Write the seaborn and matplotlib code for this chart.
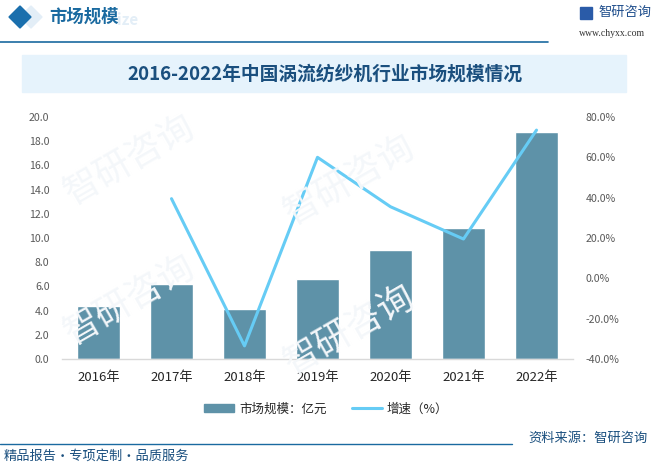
import matplotlib
matplotlib.use("Agg")
import matplotlib.pyplot as plt
import seaborn as sns
import pandas as pd
import numpy as np
from matplotlib.patches import Rectangle, Polygon
from matplotlib.lines import Line2D

years = ["2016年", "2017年", "2018年", "2019年", "2020年", "2021年", "2022年"]
market_size = [4.38, 6.2, 4.13, 6.6, 9.0, 10.8, 18.8]
growth_years = ["2017年", "2018年", "2019年", "2020年", "2021年", "2022年"]
growth = [39.5, -33.5, 60.0, 35.5, 19.5, 73.5]
left_ticks = [0, 2, 4, 6, 8, 10, 12, 14, 16, 18, 20]
right_ticks = [-40, -20, 0, 20, 40, 60, 80]

sns.set_theme(style="white")
plt.rcParams['font.family'] = ['Noto Sans CJK SC', 'DejaVu Sans']

BAR = "#5e92a8"
LINE = "#66ccf5"
DARK = "#1a4f7e"

W, H = 652, 466
fig = plt.figure(figsize=(W/100, H/100), dpi=100)

def fx(x): return x / W
def fy(y): return 1 - y / H

# faint watermarks
for (x, y) in [(130, 160), (130, 300), (350, 180), (350, 330)]:
    fig.text(fx(x), fy(y), "智研咨询", fontsize=26, color="#f4f7fa", rotation=30,
             ha="center", va="center", zorder=0)

# header
fig.patches.append(Polygon([[fx(20), fy(17)], [fx(31), fy(6)], [fx(42), fy(17)], [fx(31), fy(28)]],
                           closed=True, transform=fig.transFigure, color="#e3eef7", zorder=2))
fig.patches.append(Polygon([[fx(9), fy(17)], [fx(20), fy(6)], [fx(31), fy(17)], [fx(20), fy(28)]],
                           closed=True, transform=fig.transFigure, color="#1a6fad", zorder=3))
fig.text(fx(49), fy(17), "市场规模", fontsize=12.5, fontweight="bold", color="#1a6aa0",
         ha="left", va="center")
fig.text(fx(117), fy(20), "ize", fontsize=11, fontweight="bold", color="#e3eef7",
         ha="left", va="center", zorder=0)
fig.add_artist(Line2D([0, fx(548)], [fy(42), fy(42)], color="#1a6aa0", lw=1.2))
fig.text(fx(598), fy(12), "智研咨询", fontsize=9.5, color="#1f4e8c", ha="left", va="center")
fig.patches.append(Rectangle((fx(580), fy(19)), fx(12), 12/H, transform=fig.transFigure,
                             color="#2a5ba8"))
fig.text(fx(579), fy(33), "www.chyxx.com", fontsize=7, color="#333333", ha="left",
         va="center", family=["Liberation Serif", "DejaVu Serif"])

# title bar
fig.patches.append(Rectangle((fx(22), fy(92)), fx(604), 37/H, transform=fig.transFigure,
                             color="#e6f3fc", zorder=0))
fig.text(fx(325), fy(74), "2016-2022年中国涡流纺纱机行业市场规模情况", fontsize=13.5,
         fontweight="bold", color=DARK, ha="center", va="center")

ax = fig.add_axes([fx(62), fy(359), fx(573) - fx(62), fy(117) - fy(359)])
ax.patch.set_alpha(0)
df = pd.DataFrame({"year": years, "size": market_size})
sns.barplot(data=df, x="year", y="size", color=BAR, width=0.58, saturation=1, ax=ax, zorder=2)
ax.set_ylim(0, 20)
ax.set_yticks(left_ticks)
ax.set_yticklabels([f"{v:.1f}" for v in left_ticks])
ax.set_xlim(-0.5, len(years) - 0.5)
ax.set_xlabel("")
ax.set_ylabel("")
for s in ["top", "right", "left"]:
    ax.spines[s].set_visible(False)
ax.spines["bottom"].set_color("#d9d9d9")
ax.spines["bottom"].set_linewidth(1)
ax.tick_params(axis="y", labelsize=7.6, colors="#595959", length=0, pad=9)
ax.tick_params(axis="x", labelsize=9.5, colors="#262626", length=0, pad=9)

ax2 = ax.twinx()
gdf = pd.DataFrame({"pos": [years.index(y) for y in growth_years], "g": growth})
sns.lineplot(data=gdf, x="pos", y="g", color=LINE, lw=2.2, ax=ax2)
ax2.set_ylim(-40, 80)
ax2.set_yticks(right_ticks)
ax2.set_yticklabels([f"{v:.1f}%" for v in right_ticks])
ax2.set_ylabel("")
ax2.set_xlabel("")
for s in ["top", "right", "left", "bottom"]:
    ax2.spines[s].set_visible(False)
ax2.tick_params(axis="y", labelsize=7.6, colors="#595959", length=0, pad=9)
ax.set_xlim(-0.5, len(years) - 0.5)

# legend
handles = [Rectangle((0, 0), 1, 1, color=BAR), Line2D([0], [0], color=LINE, lw=2.2)]
fig.legend(handles, ["市场规模：亿元", "增速（%）"], loc="center", bbox_to_anchor=(fx(326), fy(409)),
           ncol=2, frameon=False, fontsize=9, handlelength=2.4, handleheight=0.6,
           columnspacing=2.0, handletextpad=0.4, labelcolor="#262626")

# footer
fig.add_artist(Line2D([0, fx(512)], [fy(444), fy(444)], color="#1a6aa0", lw=1.0))
fig.text(fx(4), fy(456), "精品报告・专项定制・品质服务", fontsize=9.5, color=DARK,
         ha="left", va="center")
fig.text(fx(648), fy(438), "资料来源：智研咨询", fontsize=9.5, color=DARK,
         ha="right", va="center")

fig.savefig("out.png", dpi=100)
